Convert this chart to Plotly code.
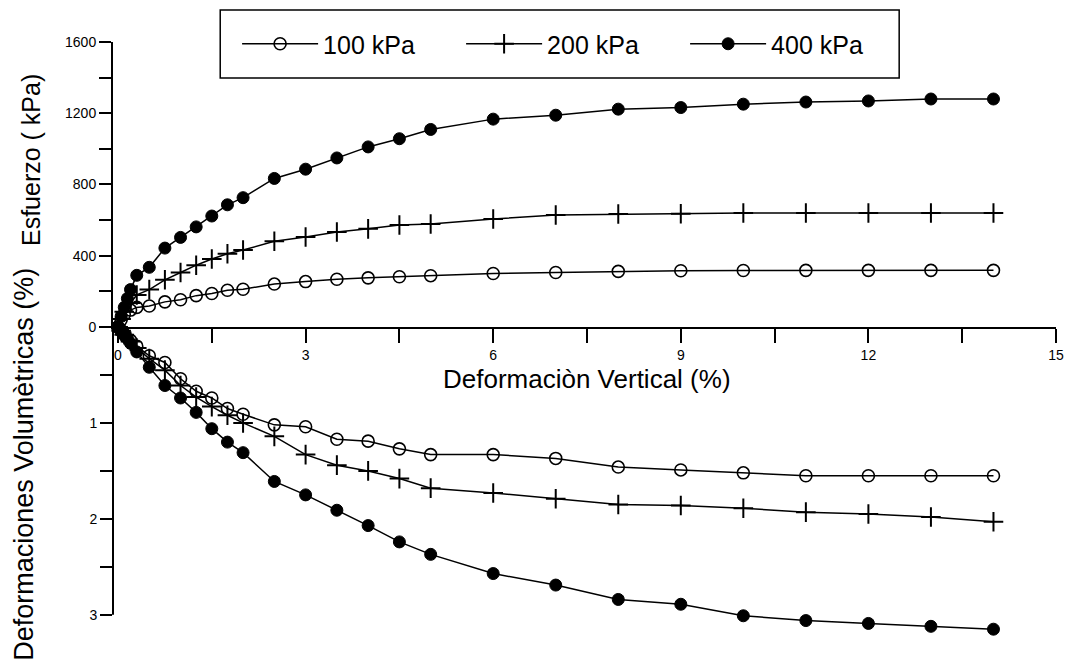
import plotly.graph_objects as go

# ---------------- data ----------------
x_100 = [0, 0.05, 0.1, 0.2, 0.3, 0.5, 0.75, 1, 1.25, 1.5, 1.75, 2, 2.5, 3, 3.5, 4, 4.5, 5, 6, 7, 8, 9, 10, 11, 12, 13, 14]
stress_100 = [0, 40, 70, 95, 110, 118, 141, 153, 176, 188, 206, 212, 241, 255, 268, 276, 282, 288, 300, 306, 312, 316, 317, 318, 318, 318, 318]
vol_100 = [0, 0.04, 0.08, 0.14, 0.2, 0.3, 0.37, 0.54, 0.67, 0.74, 0.85, 0.91, 1.02, 1.04, 1.17, 1.19, 1.27, 1.33, 1.33, 1.37, 1.46, 1.49, 1.52, 1.55, 1.55, 1.55, 1.55]

x_200 = [0, 0.05, 0.1, 0.2, 0.3, 0.5, 0.75, 1, 1.25, 1.5, 1.75, 2, 2.5, 3, 3.5, 4, 4.5, 5, 6, 7, 8, 9, 10, 11, 12, 13, 14]
stress_200 = [0, 45, 85, 135, 180, 210, 265, 306, 347, 382, 411, 432, 481, 505, 533, 551, 573, 578, 606, 629, 634, 636, 640, 640, 640, 640, 640]
vol_200 = [0, 0.04, 0.08, 0.15, 0.22, 0.33, 0.45, 0.61, 0.73, 0.83, 0.92, 1.0, 1.14, 1.33, 1.44, 1.50, 1.58, 1.68, 1.73, 1.79, 1.85, 1.86, 1.89, 1.93, 1.95, 1.98, 2.03]

x_400 = [0, 0.05, 0.1, 0.15, 0.2, 0.3, 0.5, 0.75, 1.0, 1.25, 1.5, 1.75, 2.0, 2.5, 3, 3.5, 4, 4.5, 5, 6, 7, 8, 9, 10, 11, 12, 13, 14]
stress_400 = [0, 60, 110, 160, 210, 290, 335, 443, 503, 562, 623, 686, 726, 834, 886, 949, 1011, 1057, 1109, 1167, 1189, 1223, 1232, 1251, 1263, 1269, 1280, 1280]
vol_400 = [0, 0.03, 0.07, 0.12, 0.17, 0.26, 0.42, 0.61, 0.74, 0.89, 1.06, 1.20, 1.31, 1.61, 1.75, 1.91, 2.07, 2.24, 2.37, 2.57, 2.69, 2.84, 2.89, 3.01, 3.06, 3.09, 3.12, 3.15]

series_names = ["100 kPa", "200 kPa", "400 kPa"]

x_ticks = [0, 3, 6, 9, 12, 15]
stress_ticks = [0, 400, 800, 1200, 1600]
vol_ticks = [1, 2, 3]

# ---------------- figure ----------------
FONT = "Liberation Sans, Arial, sans-serif"
BLACK = "#000000"

styles = [
    dict(symbol="circle-open", size=12, color=BLACK, line=dict(width=1.6, color=BLACK)),
    dict(symbol="cross-thin", size=14, color=BLACK, line=dict(width=2, color=BLACK)),
    dict(symbol="circle", size=12, color=BLACK, line=dict(width=1, color=BLACK)),
]
xs = [x_100, x_200, x_400]
stresses = [stress_100, stress_200, stress_400]
vols = [vol_100, vol_200, vol_400]

fig = go.Figure()
for i in range(3):
    fig.add_trace(go.Scatter(
        x=xs[i], y=stresses[i], mode="lines+markers", name=series_names[i],
        line=dict(color=BLACK, width=1.5), marker=styles[i],
        xaxis="x", yaxis="y", cliponaxis=False, legendgroup=series_names[i],
    ))
for i in range(3):
    fig.add_trace(go.Scatter(
        x=xs[i], y=vols[i], mode="lines+markers", name=series_names[i],
        line=dict(color=BLACK, width=1.5), marker=styles[i],
        xaxis="x", yaxis="y2", cliponaxis=False, showlegend=False,
        legendgroup=series_names[i],
    ))

split = 0.5186
tickfont = dict(family=FONT, size=14, color=BLACK)

fig.update_layout(
    width=1068, height=658,
    margin=dict(l=105, r=13, t=34, b=32),
    paper_bgcolor="white", plot_bgcolor="white",
    font=dict(family=FONT, color=BLACK),
    xaxis=dict(
        range=[-0.08, 15], anchor="y", showgrid=False, zeroline=False,
        showline=True, linecolor=BLACK, linewidth=2,
        tickvals=x_ticks, ticks="outside", ticklen=14, tickwidth=2, tickcolor=BLACK,
        minor=dict(dtick=1.5, tick0=0, ticks="outside", ticklen=14, tickwidth=2, tickcolor=BLACK),
        tickfont=tickfont,
    ),
    yaxis=dict(
        domain=[split, 1], range=[0, 1600], anchor="x", showgrid=False, zeroline=False,
        showline=True, linecolor=BLACK, linewidth=2,
        tickvals=stress_ticks, ticks="outside", ticklen=12, tickwidth=2, tickcolor=BLACK,
        minor=dict(dtick=200, tick0=0, ticks="outside", ticklen=12, tickwidth=2, tickcolor=BLACK),
        tickfont=tickfont,
    ),
    yaxis2=dict(
        domain=[0, split], range=[3.2, 0], anchor="x", showgrid=False, zeroline=False,
        showline=False,
        tickvals=vol_ticks, ticks="outside", ticklen=12, tickwidth=2, tickcolor=BLACK,
        minor=dict(tickvals=[0.5, 1.5, 2.5], ticks="outside", ticklen=12, tickwidth=2, tickcolor=BLACK),
        tickfont=tickfont,
    ),
    showlegend=True,
    legend=dict(
        orientation="h", x=0.1316, y=0.9966, xanchor="left", yanchor="middle",
        font=dict(family=FONT, size=25, color=BLACK),
        bgcolor="rgba(0,0,0,0)", borderwidth=0,
        entrywidth=133, entrywidthmode="pixels", itemwidth=76,
    ),
    shapes=[
        dict(type="line", xref="paper", yref="y2", x0=0, x1=0, y0=0, y1=3,
             line=dict(color=BLACK, width=2)),
        dict(type="rect", xref="paper", yref="paper", x0=0.1137, x1=0.8337, y0=0.939, y1=1.054,
             line=dict(color=BLACK, width=1.5), fillcolor="rgba(0,0,0,0)"),
    ],
    annotations=[
        dict(text="Deformaciòn Vertical (%)", xref="x", yref="y", x=7.5, y=0,
             xanchor="center", yanchor="middle", yshift=-52, showarrow=False,
             font=dict(family=FONT, size=26, color=BLACK)),
        dict(text="Esfuerzo ( kPa)", xref="paper", yref="paper", x=-0.0863, y=0.80,
             xanchor="center", yanchor="middle", textangle=-90, showarrow=False,
             font=dict(family=FONT, size=25, color=BLACK)),
        dict(text="Deformaciones Volumètricas (%)", xref="paper", yref="paper", x=-0.0947, y=0.287,
             xanchor="center", yanchor="middle", textangle=-90, showarrow=False,
             font=dict(family=FONT, size=27, color=BLACK)),
    ],
)

fig.write_html("out.html")
